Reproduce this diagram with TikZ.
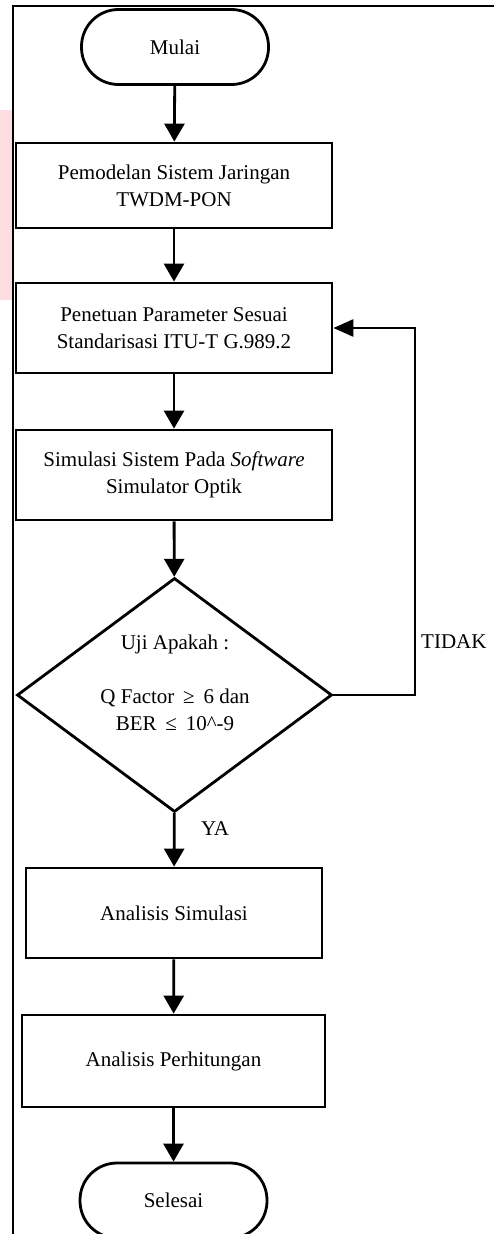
\documentclass[tikz,border=0pt]{standalone}
\usepackage{fontspec}
\setmainfont{Liberation Serif}
\usetikzlibrary{arrows.meta,shapes.geometric}
\definecolor{pinkstrip}{HTML}{FDDDE1}
\begin{document}
\begin{tikzpicture}[x=1pt,y=-1pt,
  every node/.style={font=\fontsize{21}{27}\selectfont, align=center, inner sep=0pt},
  term/.style={draw, line width=2.8pt, rectangle, rounded corners=37pt, minimum width=187pt, minimum height=75pt},
  proc/.style={draw, line width=2.8pt, rectangle, minimum width=316pt, minimum height=88pt},
  dec/.style={draw, line width=2.8pt, diamond, minimum width=315pt, minimum height=234pt},
  arr/.style={line width=2.8pt, -{Triangle[width=20pt,length=18pt]}},
  farr/.style={line width=2.8pt, -{Triangle[width=17pt,length=20pt]}},
  lbl/.style={font=\fontsize{21}{24}\selectfont}
]
\useasboundingbox (0,0) rectangle (494,1234);
\fill[pinkstrip] (0,110) rectangle (12,300);
\draw[line width=2pt] (13,1234) -- (13,6) -- (494,6);

\node[term] (mulai) at (175,47) {Mulai};
\node[proc, minimum height=85pt] (r1) at (174,185.5) {Pemodelan Sistem Jaringan\\TWDM-PON};
\node[proc, minimum height=90pt] (r2) at (174,328) {Penetuan Parameter Sesuai\\Standarisasi ITU-T G.989.2};
\node[proc, minimum height=90pt] (r3) at (174,475) {Simulasi Sistem Pada \textit{Software}\\Simulator Optik};
\node[dec] (dia) at (174.5,695) {};
\node (diatext) at (175,683) {Uji Apakah :\\[27pt]Q Factor \,≥\, 6 dan\\BER \,≤\, 10\textasciicircum-9};
\node[proc, minimum width=296pt, minimum height=90pt] (r4) at (174,913) {Analisis Simulasi};
\node[proc, minimum width=303pt, minimum height=92pt] (r5) at (173.5,1061) {Analisis Perhitungan};
\node[term] (selesai) at (173.5,1200.5) {Selesai};

\coordinate (fb) at (415,695);
\node[lbl, anchor=west] (tidak) at (421,642) {TIDAK};
\node[lbl] (ya) at (215,829) {YA};

\draw[arr] (mulai) -- (r1);
\draw[arr] (r1) -- (r2);
\draw[arr] (r2) -- (r3);
\draw[arr] (r3) -- (dia);
\draw[arr] (dia) -- (r4);
\draw[arr] (r4) -- (r5);
\draw[arr] (r5) -- (selesai);
\draw[farr] (dia.east) -- (fb) |- (r2.east);
\end{tikzpicture}
\end{document}
